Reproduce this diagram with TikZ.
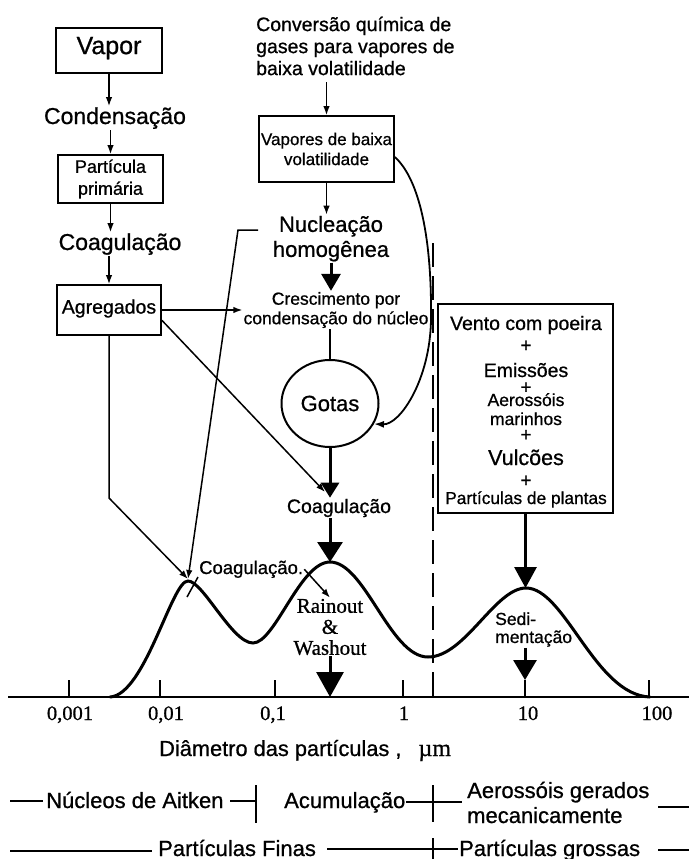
\documentclass[tikz,border=0pt]{standalone}
\usepackage{fontspec}
\setmainfont{Liberation Sans}[RawFeature={embolden=0.8}]
\newfontfamily\serifface{Liberation Serif}[RawFeature={embolden=0.8}]
\usetikzlibrary{arrows.meta,shapes.geometric}
\newcommand{\fsz}[2]{\fontsize{#1}{#2}\selectfont}
\begin{document}
\begin{tikzpicture}[x=1pt,y=-1pt,
  txt/.style={inner sep=1pt},
  frame/.style={draw,line width=1.7pt,inner sep=0pt,align=center},
  capcenter/.style={text height=.72em,text depth=0pt},
  linkarrow/.style={line width=1.5pt,-{Latex[length=9pt,width=6.5pt]}},
  bigarrow/.style={line width=3pt,-{Triangle[#1]}},
  rule/.style={line width=1.2pt},
  plus/.style={txt,font=\fsz{19}{22},anchor=base},
]
\useasboundingbox (0,0) rectangle (689,859);

% ---------- left column: particle formation chain ----------
\node[frame,minimum width=106pt,minimum height=45pt,font=\fsz{25}{29},capcenter] (vapor) at (109,50.5) {Vapor};
\node[txt,font=\fsz{23}{27},anchor=base] (cond) at (115,124) {Condensação};
\node[frame,minimum width=105pt,minimum height=48pt,font=\fsz{18}{22}] (part) at (110.5,179) {Partícula\\primária};
\node[txt,font=\fsz{23}{27},anchor=base] (coagL) at (120,250) {Coagulação};
\node[frame,minimum width=104pt,minimum height=50pt,font=\fsz{19.5}{23},capcenter] (agreg) at (109,310) {Agregados};

% ---------- centre column: secondary particles ----------
\node[txt,font=\fsz{19.5}{22},align=left,anchor=west] (conv) at (255,46) {Conversão química de\\gases para vapores de\\baixa volatilidade};
\node[frame,minimum width=135pt,minimum height=66pt,font=\fsz{17}{20}] (vlv) at (326.5,149) {Vapores de baixa\\volatilidade};
\node[txt,font=\fsz{22}{25},align=center] (nuc) at (331,238.7) {Nucleação\\homogênea};
\node[txt,font=\fsz{17.5}{19.5},align=center] (cresc) at (336,310) {Crescimento por\\condensação do núcleo};
\node[ellipse,draw,line width=2pt,minimum width=97pt,minimum height=87pt,inner sep=0pt,font=\fsz{22}{26}] (gotas) at (330,403.5) {Gotas};
\node[txt,font=\fsz{19.5}{23},anchor=base] (coagM) at (339,513) {Coagulação};
\node[txt,font=\fsz{18.5}{22},anchor=base west] (coagP) at (198,574) {Coagulação.};
\node[txt,font=\serifface\fsz{21}{21},align=center] (rain) at (330,627) {Rainout\\\&\\Washout};

% ---------- right column: mechanically generated aerosols ----------
\node[frame,minimum width=175pt,minimum height=209pt] (src) at (525.5,408.5) {};
\node[txt,font=\fsz{19.5}{23},anchor=base] (s1) at (526,330) {Vento com poeira};
\node[plus] (p1) at (526,351.7) {+};
\node[txt,font=\fsz{19.5}{23},anchor=base] (s2) at (526,377) {Emissões};
\node[plus] (p2) at (526,393.5) {+};
\node[txt,font=\fsz{17.5}{20},anchor=base] (s3) at (526,406) {Aerossóis};
\node[txt,font=\fsz{17.5}{20},anchor=base] (s4) at (526,425) {marinhos};
\node[plus] (p3) at (526,441) {+};
\node[txt,font=\fsz{21.5}{25},anchor=base] (s5) at (526,465) {Vulcões};
\node[plus] (p4) at (526,486.7) {+};
\node[txt,font=\fsz{17.3}{20},anchor=base] (s6) at (526,504) {Partículas de plantas};
\node[txt,font=\fsz{17.5}{18},align=left,anchor=west] (sed) at (494,629.5) {Sedi-\\mentação};

% ---------- size distribution ----------
\coordinate (pk1) at (188,581);
\coordinate (pk2) at (330,562);
\coordinate (pk3) at (526,588);
\coordinate (axL) at (8,697);
\coordinate (axR) at (689,697);
\draw[line width=2.2pt] (axL) -- (axR);
\foreach \x in {69,160,275,403,525,649} \draw[rule] (\x,697) -- (\x,680);
\draw[line width=1.5pt,dash pattern=on 24pt off 9pt] (433,243) -- (433,697);
\draw[line width=3pt,line cap=round]
  (110,697) .. controls (145,695) and (172,580) .. (pk1)
  .. controls (203,581) and (232,643) .. (253,643)
  .. controls (275,643) and (300,562) .. (pk2)
  .. controls (365,562) and (390,657) .. (428,657)
  .. controls (465,657) and (495,588) .. (pk3)
  .. controls (565,588) and (595,695) .. (650,697);
\draw[line width=1.5pt] (187,597) -- (198,577);

\foreach \x/\t in {70/{0,001},166/{0,01},273/{0,1},404/{1},528/{10},657/{100}}
  \node[txt,font=\serifface\fsz{20.5}{23},anchor=base] (tick\x) at (\x,720) {\t};
\node[txt,font=\fsz{21.8}{25},anchor=base west] (diam) at (158,756) {Diâmetro das partículas ,\hspace{17pt}{\serifface\fsz{24}{27}µm}};

% ---------- connectors ----------
\draw[linkarrow] (vapor.south) -- (vapor.south |- cond.north);
\draw[linkarrow] (cond.south -| part.north) -- (part.north);
\draw[linkarrow] (part.south) -- (part.south |- coagL.north);
\draw[linkarrow] (coagL.south -| agreg.north) -- (agreg.north);
\draw[linkarrow] (agreg.east) -- (agreg.east -| cresc.west);
\coordinate (cmTip) at (325,492);
\draw[linkarrow] (agreg.-11) -- (cmTip);
\coordinate (pk1tip) at (188,579);
\coordinate (agBend) at (109,498);
\draw[linkarrow] (agreg.south) -- (agBend) -- (pk1tip);
\coordinate (nucStart) at (258,230);
\coordinate (nucHook) at (238,230);
\draw[linkarrow] (nucStart) -- (nucHook) -- (pk1tip);

\draw[linkarrow,shorten <=6pt] (conv.south -| vlv.north) -- (vlv.north);
\draw[linkarrow] (vlv.south) -- (vlv.south |- nuc.north);
\draw[bigarrow={length=17pt,width=19pt}] (nuc.south) -- (nuc.south |- cresc.north);
\draw[line width=2pt] (cresc.south -| gotas.north) -- (gotas.north);
\draw[line width=1.8pt,-{Latex[length=10pt,width=7pt]}] ([yshift=-8pt]vlv.east)
  .. controls (420,180) and (432,240) .. (431,320)
  .. controls (430,380) and (400,425) .. (gotas.-25);
\draw[bigarrow={length=15pt,width=18pt}] (gotas.south) -- (gotas.south |- coagM.north);
\draw[bigarrow={length=20pt,width=25pt}] (coagM.south -| pk2) -- (pk2);
\draw[linkarrow] (coagP.east) -- (rain.north);
\coordinate (ax03) at (330,697);
\draw[bigarrow={length=25pt,width=27pt}] (rain.south) -- (ax03);
\draw[bigarrow={length=21pt,width=22pt}] (src.south) -- (src.south |- pk3);
\coordinate (sedTip) at (525,680);
\draw[bigarrow={length=20pt,width=23pt}] (sed.south -| sedTip) -- (sedTip);

% ---------- size ranges ----------
\node[txt,font=\fsz{22}{25},anchor=base west] (aitken) at (45,808) {Núcleos de Aitken};
\node[txt,font=\fsz{22}{25},anchor=base west] (acum) at (283,808) {Acumulação};
\node[txt,font=\fsz{22}{25},align=left,anchor=west] (mec) at (466,802.5) {Aerossóis gerados\\mecanicamente};
\node[txt,font=\fsz{22}{25},anchor=base west] (fine) at (157,856) {Partículas Finas};
\node[txt,font=\fsz{22}{25},anchor=base west] (coarse) at (458,856) {Partículas grossas};

\draw[rule] (10,801) -- (43,801);
\draw[rule] (230,801) -- (256,801);
\draw[rule] (256,785) -- (256,823);
\draw[rule] (acum.east |- 0,802) -- (462,802);
\draw[rule] (433,785) -- (433,822);
\draw[rule] (658,807) -- (689,807);
\draw[rule] (10,851) -- (152,851);
\draw[rule] (327,849) -- (coarse.west |- 0,849);
\draw[rule] (433,838) -- (433,859);
\draw[rule] (658,850) -- (689,850);
\end{tikzpicture}
\end{document}
